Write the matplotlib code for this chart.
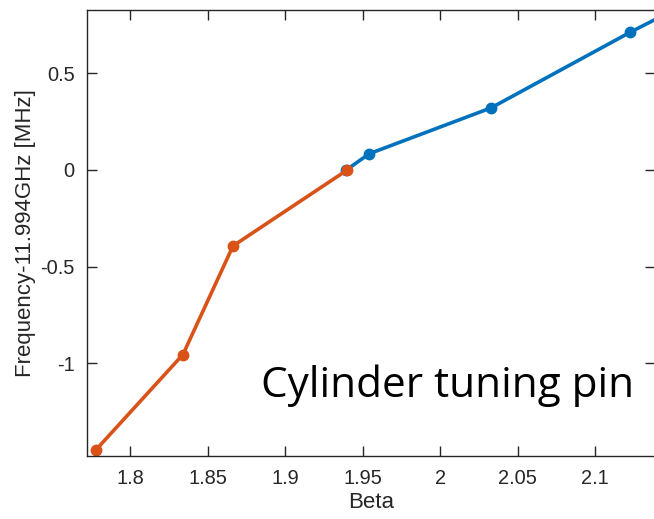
import matplotlib
matplotlib.use("Agg")
import matplotlib.pyplot as plt

beta_blue = [1.9394, 1.9542, 2.0327, 2.1224, 2.20]
freq_blue = [0.0, 0.084, 0.321, 0.712, 1.03]
beta_orange = [1.778, 1.834, 1.8663, 1.940]
freq_orange = [-1.447, -0.955, -0.393, 0.0]
xticks = [1.8, 1.85, 1.9, 1.95, 2.0, 2.05, 2.1]
xticklabels = ["1.8", "1.85", "1.9", "1.95", "2", "2.05", "2.1"]
yticks = [-1.0, -0.5, 0.0, 0.5]
yticklabels = ["-1", "-0.5", "0", "0.5"]

W, H = 654, 519
fig = plt.figure(figsize=(W/100, H/100), dpi=100)
ax = fig.add_axes([87/W, 1-456/H, (655-87)/W, (456-10.3)/H])
dark = "#262626"
ax.plot(beta_blue, freq_blue, "-o", color="#0072BD", lw=2.6, ms=7.5, clip_on=True)
ax.plot(beta_orange, freq_orange, "-o", color="#D95319", lw=2.6, ms=7.5, clip_on=True)
ax.set_xlim(1.7721, 2.1385)
ax.set_ylim(-1.48, 0.826)
ax.set_xticks(xticks)
ax.set_xticklabels(xticklabels)
ax.set_yticks(yticks)
ax.set_yticklabels(yticklabels)
ax.tick_params(direction="in", length=7, width=1, colors=dark, labelsize=14.4,
               top=True, right=True, pad=9)
for lab in ax.get_xticklabels() + ax.get_yticklabels():
    lab.set_family("Liberation Sans")
for s in ax.spines.values():
    s.set_color(dark)
    s.set_linewidth(1)
ax.set_xlabel("Beta", fontsize=16, family="Liberation Sans", color=dark, labelpad=3)
ax.set_ylabel("Frequency-11.994GHz [MHz]", fontsize=16, family="Liberation Sans", color=dark, labelpad=3)
ax.text(0.307, 0.1324, "Cylinder tuning pin", transform=ax.transAxes, fontsize=30.4,
        family="Open Sans", color="black", va="baseline")
fig.savefig("out.png", dpi=100)
